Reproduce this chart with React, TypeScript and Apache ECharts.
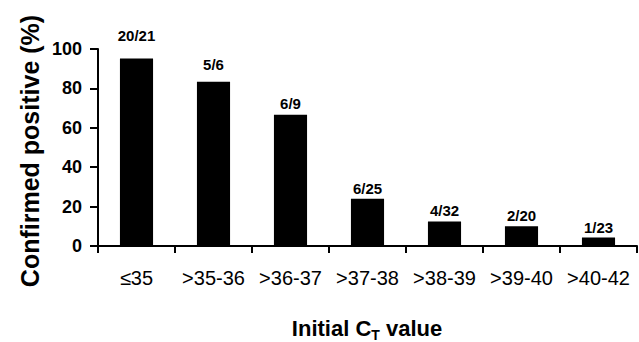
import React, { useEffect, useRef } from "react";
import * as echarts from "echarts";

const categories = ["≤35", ">35-36", ">36-37", ">37-38", ">38-39", ">39-40", ">40-42"];
const confirmed = [20, 5, 6, 6, 4, 2, 1];
const tested = [21, 6, 9, 25, 32, 20, 23];
const yTicks = [0, 20, 40, 60, 80, 100];
const labelLift = [15, 10, 4, 3, 3, 3, 2];

const SANS = "'Liberation Sans', Arial, sans-serif";

export default function App() {
  const ref = useRef<HTMLDivElement>(null);
  useEffect(() => {
    if (!ref.current) return;
    const chart = echarts.init(ref.current, null, { renderer: "svg" });
    const values = confirmed.map((c, i) => (c / tested[i]) * 100);
    chart.setOption({
      animation: false,
      backgroundColor: "#ffffff",
      grid: { left: 98, right: 2, top: 49, bottom: 96, containLabel: false },
      xAxis: {
        type: "category",
        data: categories,
        axisLine: { show: true, lineStyle: { color: "#000", width: 2 } },
        axisTick: { show: true, alignWithLabel: false, length: 7, lineStyle: { color: "#000", width: 2 } },
        axisLabel: { color: "#000", fontFamily: SANS, fontSize: 20, margin: 22, interval: 0 },
        splitLine: { show: false },
      },
      yAxis: {
        type: "value",
        min: yTicks[0],
        max: yTicks[yTicks.length - 1],
        interval: 20,
        axisLine: { show: true, lineStyle: { color: "#000", width: 2 } },
        axisTick: { show: true, length: 8, lineStyle: { color: "#000", width: 2 } },
        axisLabel: { color: "#000", fontFamily: SANS, fontWeight: "bold", fontSize: 18, margin: 16 },
        splitLine: { show: false },
      },
      series: [
        {
          type: "bar",
          barWidth: "43%",
          itemStyle: { color: "#000" },
          data: values.map((v, i) => ({
            value: v,
            label: {
              show: true,
              position: "top",
              distance: labelLift[i],
              formatter: `${confirmed[i]}/${tested[i]}`,
              color: "#000",
              fontFamily: SANS,
              fontWeight: "bold",
              fontSize: 15,
            },
          })),
        },
      ],
      graphic: [
        {
          type: "text",
          x: 30,
          y: 151,
          rotation: Math.PI / 2,
          style: {
            text: "Confirmed positive (%)",
            fontFamily: SANS,
            fontWeight: "bold",
            fontSize: 25,
            fill: "#000",
            textAlign: "center",
            textVerticalAlign: "middle",
          },
        },
        {
          type: "text",
          x: 367,
          y: 329,
          style: {
            text: "{a|Initial C}{s|T}{a| value}",
            fill: "#000",
            textAlign: "center",
            textVerticalAlign: "middle",
            rich: {
              a: { fontFamily: SANS, fontWeight: "bold", fontSize: 22, lineHeight: 24, verticalAlign: "top" },
              s: { fontFamily: SANS, fontWeight: "bold", fontSize: 14, lineHeight: 14, padding: [11, 0, 0, 0], verticalAlign: "top" },
            },
          },
        },
      ],
    });
    return () => chart.dispose();
  }, []);
  return <div ref={ref} style={{ width: 639, height: 342, position: "fixed", left: 0, top: 0 }} />;
}
